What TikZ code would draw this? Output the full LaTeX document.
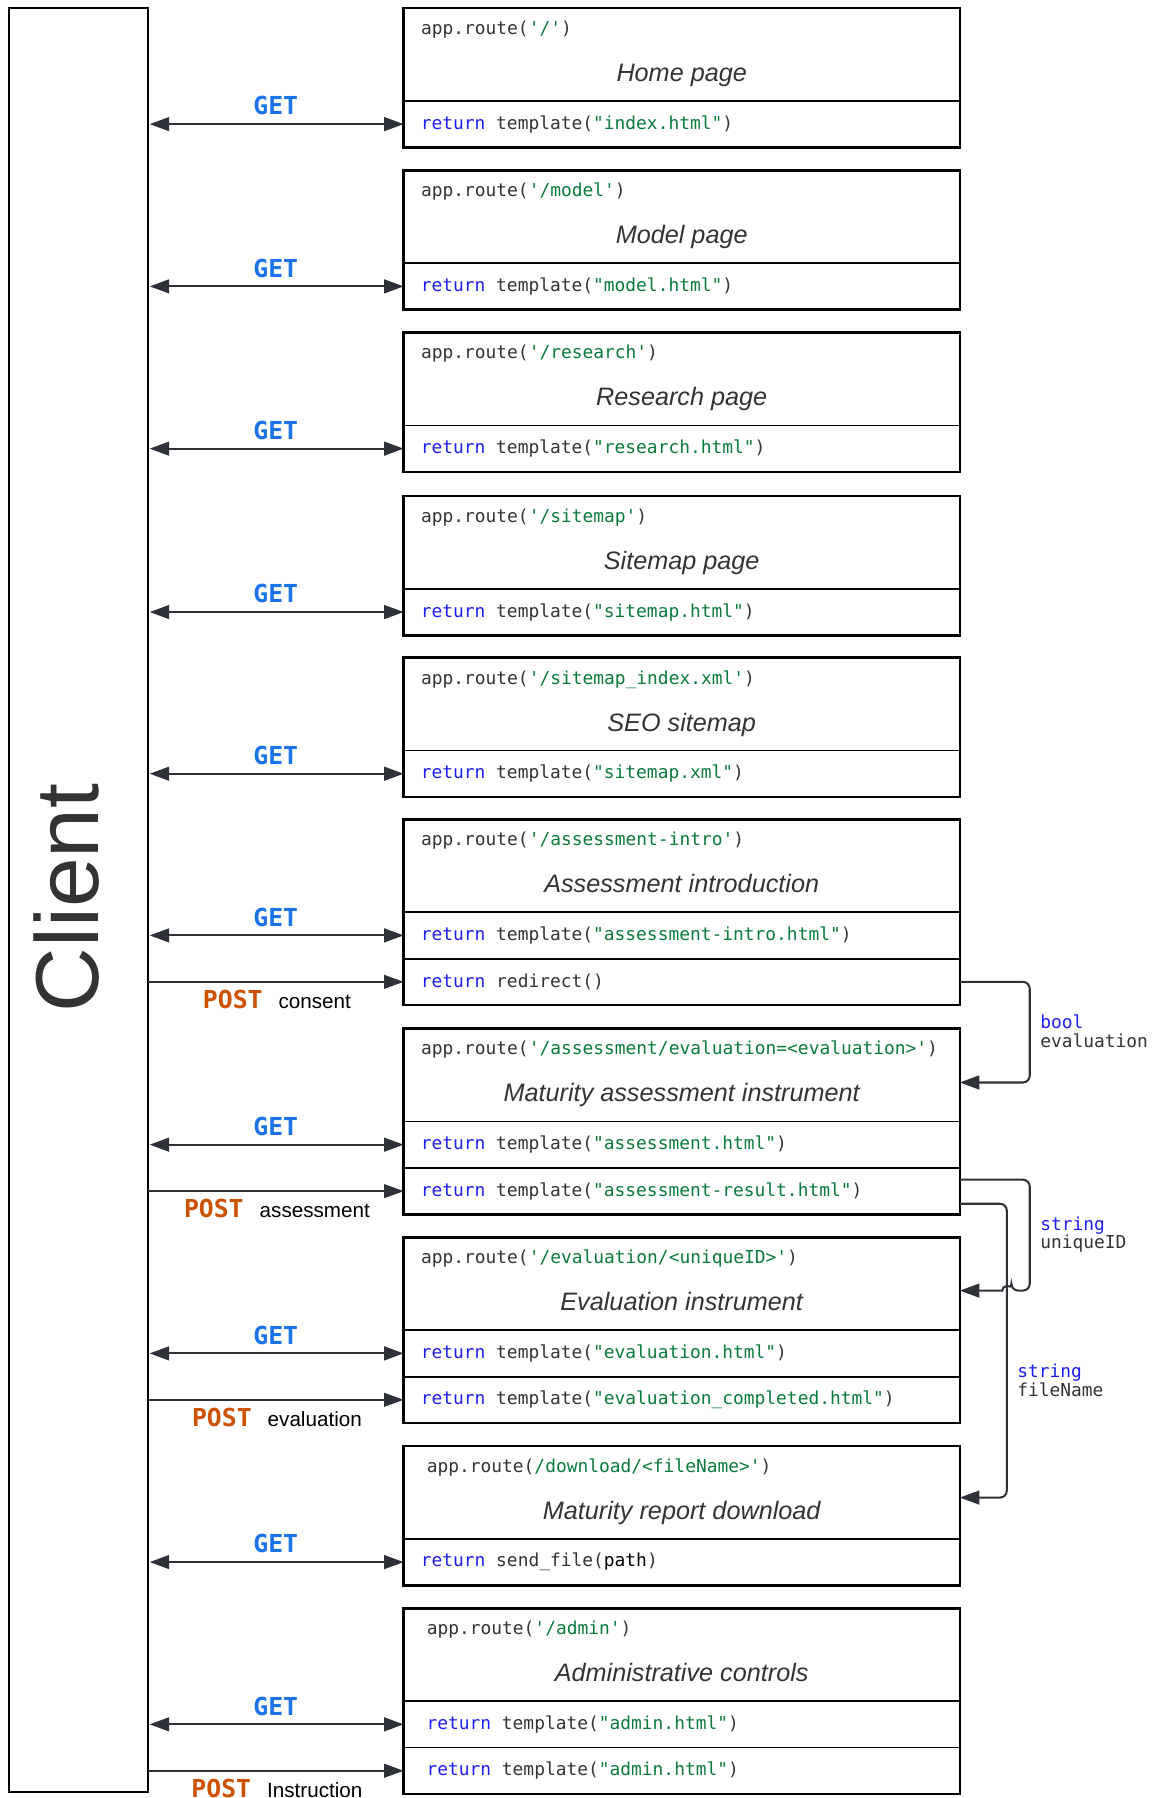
\documentclass[tikz,border=0pt]{standalone}
\usepackage{fontspec}
\setmainfont{Liberation Sans}
\newfontfamily\codefont{DejaVu Sans Mono}[Ligatures=TeXOff]
\usetikzlibrary{arrows.meta,calc}

\definecolor{ink}{HTML}{333333}
\definecolor{arrowink}{HTML}{2E3238}
\definecolor{kwblue}{HTML}{1E1EF0}
\definecolor{strgreen}{HTML}{0A7A3C}
\definecolor{getblue}{HTML}{1A73E8}
\definecolor{postorange}{HTML}{CC5200}

% code colouring and a full-width code space
\newcommand\cKw[1]{\textcolor{kwblue}{#1}}
\newcommand\cStr[1]{\textcolor{strgreen}{#1}}
\newcommand\csp{\hspace{0.602em}}

% header of a route box: [x offset]{name}{top}{route}{title}
\newcommand\pagehead[5][15]{%
  \node[head] (#2) at (352,#3) {};
  \node[route] (#2-route) at ($(#2.north west)+(#1,23)$) {#4};
  \node[ttl] (#2-title) at ($(#2.north)+(0,64)$) {#5};
}
% outline around a whole route box
\newcommand\frameit[2]{\draw[frame] (#1.north west) rectangle (#2.south east);}
% request links from the client
\newcommand\getlink[1]{%
  \draw[getarr] (client.east |- #1.west) -- (#1.west);
  \node[getlbl] (#1-get) at ($(client.east |- #1.west)!0.5!(#1.west)+(0,-16)$) {GET};
}
\newcommand\postlink[2]{%
  \draw[postarr] (client.east |- #1.west) -- (#1.west);
  \node[postlbl] (#1-post) at ($(client.east |- #1.west)!0.5!(#1.west)+(1,15)$)
    {{\codefont\bfseries\fontsize{21.6}{24}\selectfont\color{postorange}POST}\hspace{14pt}#2};
}

\begin{document}
\begin{tikzpicture}[x=1pt,y=-1pt,
  head/.style={draw=black, line width=1.6pt, outer sep=0pt, inner sep=0pt,
    minimum width=485pt, minimum height=81pt, anchor=north west},
  row/.style={draw=black, line width=1.6pt, outer sep=0pt, inner xsep=15pt, inner ysep=0pt,
    text width=455pt, minimum height=40.5pt, anchor=north west, align=left,
    font={\codefont\fontsize{15.6}{18}\selectfont}, text=ink},
  rowwide/.style={row, inner xsep=20pt, text width=445pt},
  frame/.style={draw=black, line width=2.2pt},
  route/.style={anchor=base west, inner sep=0pt, font={\codefont\fontsize{15.6}{18}\selectfont}, text=ink},
  ttl/.style={anchor=base, inner sep=0pt, font={\itshape\fontsize{22}{26}\selectfont}, text=ink},
  tip/.tip={Triangle[length=17pt,width=12pt]},
  getarr/.style={draw=arrowink, line width=1.8pt, tip-tip, shorten <=1.5pt},
  postarr/.style={draw=arrowink, line width=1.3pt, -tip},
  conn/.style={draw=arrowink, line width=1.8pt, rounded corners=6pt, -tip},
  getlbl/.style={inner sep=0pt, font={\codefont\bfseries\fontsize{21.6}{24}\selectfont}, text=getblue},
  postlbl/.style={inner sep=0pt, font={\fontsize{18}{20}\selectfont}, text=black},
  lbl/.style={anchor=base west, inner sep=0pt, align=left,
    font={\codefont\fontsize{15.6}{16.3}\selectfont}, text=ink}
]
\useasboundingbox (0,0) rectangle (1006,1568);

% client column
\node[draw=black, line width=2pt, outer sep=0pt, inner sep=0pt,
  minimum width=121pt, minimum height=1556pt, anchor=north west] (client) at (8,7) {};
\node[rotate=90, inner sep=0pt, text=ink, font={\fontsize{78}{80}\selectfont}] (client-label) at (58,783) {Client};

% Home page
\pagehead{home}{7}{app.route(\cStr{'/'})}{Home page}
\node[row] (home-r1) at (home.south west) {\cKw{return}\csp template(\cStr{"index.html"})};
\frameit{home}{home-r1}

% Model page
\pagehead{model}{148.5}{app.route(\cStr{'/model'})}{Model page}
\node[row] (model-r1) at (model.south west) {\cKw{return}\csp template(\cStr{"model.html"})};
\frameit{model}{model-r1}

% Research page
\pagehead{research}{290}{app.route(\cStr{'/research'})}{Research page}
\node[row] (research-r1) at (research.south west) {\cKw{return}\csp template(\cStr{"research.html"})};
\frameit{research}{research-r1}

% Sitemap page
\pagehead{sitemap}{432.5}{app.route(\cStr{'/sitemap'})}{Sitemap page}
\node[row] (sitemap-r1) at (sitemap.south west) {\cKw{return}\csp template(\cStr{"sitemap.html"})};
\frameit{sitemap}{sitemap-r1}

% SEO sitemap
\pagehead{seo}{573.5}{app.route(\cStr{'/sitemap\_index.xml'})}{SEO sitemap}
\node[row] (seo-r1) at (seo.south west) {\cKw{return}\csp template(\cStr{"sitemap.xml"})};
\frameit{seo}{seo-r1}

% Assessment introduction
\pagehead{intro}{714.5}{app.route(\cStr{'/assessment-intro'})}{Assessment introduction}
\node[row] (intro-r1) at (intro.south west) {\cKw{return}\csp template(\cStr{"assessment-intro.html"})};
\node[row] (intro-r2) at (intro-r1.south west) {\cKw{return}\csp redirect()};
\frameit{intro}{intro-r2}

% Maturity assessment instrument
\pagehead{mat}{897}{app.route(\cStr{'/assessment/evaluation=<evaluation>'})}{Maturity assessment instrument}
\node[row] (mat-r1) at (mat.south west) {\cKw{return}\csp template(\cStr{"assessment.html"})};
\node[row] (mat-r2) at (mat-r1.south west) {\cKw{return}\csp template(\cStr{"assessment-result.html"})};
\frameit{mat}{mat-r2}

% Evaluation instrument
\pagehead{eval}{1079}{app.route(\cStr{'/evaluation/<uniqueID>'})}{Evaluation instrument}
\node[row] (eval-r1) at (eval.south west) {\cKw{return}\csp template(\cStr{"evaluation.html"})};
\node[row] (eval-r2) at (eval-r1.south west) {\cKw{return}\csp template(\cStr{"evaluation\_completed.html"})};
\frameit{eval}{eval-r2}

% Maturity report download
\pagehead[20]{dl}{1261}{app.route(\cStr{/download/<fileName>'})}{Maturity report download}
\node[row] (dl-r1) at (dl.south west) {\cKw{return}\csp send\_file(\textcolor{black}{path})};
\frameit{dl}{dl-r1}

% Administrative controls
\pagehead[20]{admin}{1402.5}{app.route(\cStr{'/admin'})}{Administrative controls}
\node[rowwide] (admin-r1) at (admin.south west) {\cKw{return}\csp template(\cStr{"admin.html"})};
\node[rowwide] (admin-r2) at (admin-r1.south west) {\cKw{return}\csp template(\cStr{"admin.html"})};
\frameit{admin}{admin-r2}

% requests from the client
\getlink{home-r1}
\getlink{model-r1}
\getlink{research-r1}
\getlink{sitemap-r1}
\getlink{seo-r1}
\getlink{intro-r1}
\postlink{intro-r2}{consent}
\getlink{mat-r1}
\postlink{mat-r2}{assessment}
\getlink{eval-r1}
\postlink{eval-r2}{evaluation}
\getlink{dl-r1}
\getlink{admin-r1}
\postlink{admin-r2}{Instruction}

% redirects between routes
\draw[conn] (intro-r2.east) -- ++(61,0) |- ($(mat.east)+(0,6.5)$);
\draw[conn] ($(mat-r2.east)+(0,11)$) -- ++(41,0) |- ($(dl.east)+(0,4.5)$);
\draw[conn] ($(mat-r2.east)+(0,-10)$) -- ++(61,0) |- (882,1125.5)
  {[sharp corners] arc[start angle=0, end angle=180, radius=4pt]} -- ($(eval.east)+(0,6)$);

% parameters passed along the redirects (base = last line)
\node[lbl] (arg-bool) at (907,913.3) {\textcolor{kwblue}{bool}\\evaluation};
\node[lbl] (arg-unique) at (907,1089) {\textcolor{kwblue}{string}\\uniqueID};
\node[lbl] (arg-file) at (887,1218) {\textcolor{kwblue}{string}\\fileName};
\end{tikzpicture}
\end{document}
